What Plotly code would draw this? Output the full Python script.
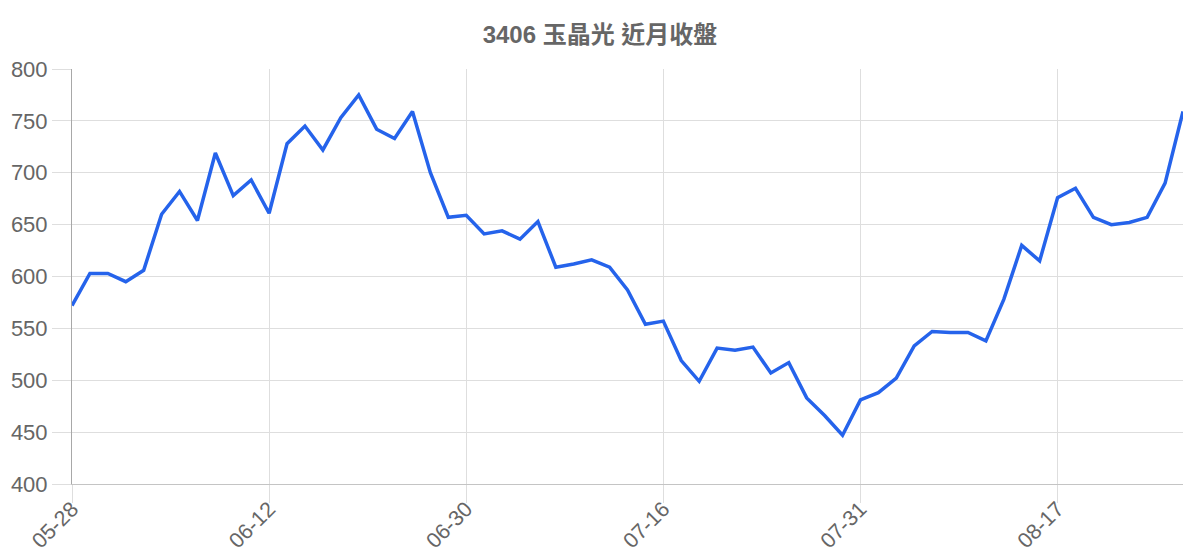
import plotly.graph_objects as go

dates = [
    "05-28", "05-29", "05-30", "06-02", "06-03", "06-04", "06-05", "06-06", "06-09", "06-10", "06-11",
    "06-12", "06-13", "06-16", "06-17", "06-18", "06-19", "06-20", "06-23", "06-24", "06-25", "06-26",
    "06-30", "07-01", "07-02", "07-03", "07-04", "07-07", "07-08", "07-09", "07-10", "07-11", "07-14",
    "07-16", "07-17", "07-18", "07-21", "07-22", "07-23", "07-24", "07-25", "07-28", "07-29", "07-30",
    "07-31", "08-01", "08-04", "08-05", "08-06", "08-07", "08-08", "08-11", "08-12", "08-13", "08-14",
    "08-17", "08-18", "08-19", "08-20", "08-21", "08-22", "08-25", "08-26",
]

close = [
    572, 603, 603, 595, 606, 660, 682, 654, 719, 678, 693,
    661, 728, 745, 722, 753, 775, 742, 733, 759, 700, 657,
    659, 641, 644, 636, 653, 609, 612, 616, 609, 587, 554,
    557, 519, 499, 531, 529, 532, 507, 517, 483, 466, 447,
    481, 488, 502, 533, 547, 546, 546, 538, 578, 630, 615,
    676, 685, 657, 650, 652, 657, 690, 759,
]

tick_labels = dates[::11]

title_text = "3406 玉晶光 近月收盤"

fig = go.Figure()
fig.add_trace(go.Scatter(
    x=dates,
    y=close,
    mode="lines",
    line=dict(color="#2563eb", width=3.5),
    hoverinfo="x+y",
))

grid = "#dedede"
font_main = "Liberation Sans, Arial, Noto Sans CJK TC, sans-serif"

fig.update_layout(
    width=1200,
    height=560,
    margin=dict(l=72, r=17, t=69, b=76, autoexpand=False),
    paper_bgcolor="white",
    plot_bgcolor="white",
    showlegend=False,
    title=dict(
        text="<b>" + title_text + "</b>",
        x=0.5,
        xanchor="center",
        y=1 - 35 / 560,
        yanchor="middle",
        yref="container",
        font=dict(family="Liberation Sans, Noto Sans CJK TC, sans-serif", size=24, color="#666666"),
    ),
    xaxis=dict(
        type="category",
        range=[0, len(dates) - 1],
        tickmode="array",
        tickvals=tick_labels,
        ticktext=tick_labels,
        tickangle=-45,
        ticks="outside",
        ticklen=18,
        tickcolor=grid,
        tickwidth=1,
        ticklabelstandoff=-15,
        showgrid=True,
        gridcolor=grid,
        gridwidth=1,
        showline=True,
        linecolor="#c4c4c4",
        linewidth=1,
        zeroline=False,
        automargin=False,
        tickfont=dict(family=font_main, size=21.5, color="#666666"),
    ),
    yaxis=dict(
        range=[400, 800],
        dtick=50,
        tick0=400,
        ticks="outside",
        ticklen=19,
        tickcolor=grid,
        tickwidth=1,
        showgrid=True,
        gridcolor=grid,
        gridwidth=1,
        showline=True,
        linecolor="#a8a8a8",
        linewidth=1,
        zeroline=False,
        automargin=False,
        tickfont=dict(family=font_main, size=22, color="#666666"),
    ),
)

fig.write_html(
    "out.html",
    config={"displayModeBar": False},
    post_script="document.body.style.margin='0';document.body.style.overflow='hidden';",
)
